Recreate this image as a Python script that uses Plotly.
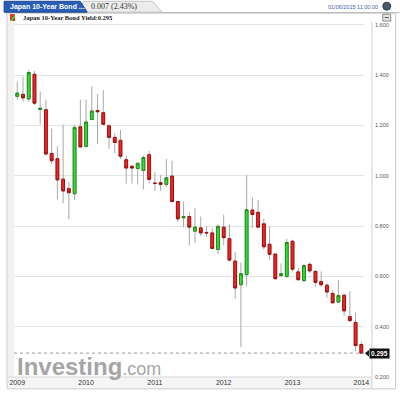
import plotly.graph_objects as go

# ---------------- data ----------------
months = [f"{y}-{m:02d}" for y in range(2010, 2015) for m in range(1, 13)] + ["2015-01"]

opens = [1.316, 1.324, 1.306, 1.404, 1.264, 1.263, 1.089, 1.068, 0.987, 0.949,
         0.929, 1.195, 1.117, 1.224, 1.260, 1.251, 1.199, 1.153, 1.141, 1.064,
         1.038, 1.029, 1.021, 1.084, 0.971, 0.973, 0.966, 0.999, 0.898, 0.833,
         0.838, 0.780, 0.793, 0.775, 0.773, 0.707, 0.796, 0.750, 0.661, 0.567,
         0.607, 0.864, 0.855, 0.809, 0.728, 0.689, 0.603, 0.600, 0.740, 0.618,
         0.583, 0.648, 0.620, 0.580, 0.565, 0.532, 0.498, 0.525, 0.440, 0.417,
         0.329]
highs = [1.374, 1.395, 1.420, 1.417, 1.336, 1.303, 1.188, 1.118, 1.204, 0.976,
         1.204, 1.303, 1.303, 1.356, 1.325, 1.341, 1.204, 1.169, 1.182, 1.081,
         1.042, 1.050, 1.081, 1.099, 1.015, 1.003, 1.067, 1.060, 0.900, 0.898,
         0.855, 0.871, 0.838, 0.799, 0.793, 0.807, 0.846, 0.807, 0.698, 0.655,
         1.003, 0.914, 0.905, 0.829, 0.800, 0.689, 0.652, 0.750, 0.746, 0.633,
         0.648, 0.655, 0.626, 0.620, 0.574, 0.545, 0.587, 0.532, 0.541, 0.456,
         0.339]
lows = [1.303, 1.295, 1.295, 1.282, 1.204, 1.081, 1.047, 0.906, 0.891, 0.827,
        0.903, 1.113, 1.112, 1.222, 1.127, 1.203, 1.107, 1.090, 1.067, 0.969,
        0.969, 0.966, 0.946, 0.969, 0.940, 0.940, 0.956, 0.896, 0.816, 0.796,
        0.724, 0.733, 0.760, 0.757, 0.709, 0.689, 0.724, 0.659, 0.511, 0.319,
        0.561, 0.793, 0.794, 0.707, 0.665, 0.587, 0.598, 0.593, 0.620, 0.583,
        0.580, 0.613, 0.558, 0.558, 0.515, 0.493, 0.495, 0.443, 0.420, 0.302,
        0.293]
closes = [1.329, 1.310, 1.411, 1.289, 1.269, 1.087, 1.060, 0.984, 0.940, 0.933,
          1.192, 1.115, 1.214, 1.258, 1.255, 1.205, 1.153, 1.133, 1.078, 1.031,
          1.031, 1.050, 1.073, 0.986, 0.970, 0.966, 0.992, 0.898, 0.829, 0.838,
          0.796, 0.796, 0.773, 0.773, 0.711, 0.799, 0.754, 0.665, 0.554, 0.611,
          0.865, 0.846, 0.796, 0.718, 0.688, 0.591, 0.611, 0.735, 0.629, 0.587,
          0.643, 0.622, 0.576, 0.567, 0.538, 0.495, 0.524, 0.463, 0.424, 0.325,
          0.295]

tick_positions = ["2010-01", "2011-01", "2012-01", "2013-01", "2014-01", "2015-01"]
tick_years = ["2009", "2010", "2011", "2012", "2013", "2014"]
y_ticks = [0.2, 0.4, 0.6, 0.8, 1.0, 1.2, 1.4, 1.6]
y_ticktext = [f"{v:.3f}" for v in y_ticks]

title_tab = "Japan 10-Year Bond ..."
change_text = "0.007 (2.43%)"
date_text = "01/06/2015 11:00:00"
legend_text = "Japan 10-Year Bond Yield:0.295"
last_value = closes[-1]

# ---------------- geometry helpers (pixel -> paper) ----------------
W, H = 400, 396
ML, MR, MT, MB = 10, 36, 22, 14
PW, PH = W - ML - MR, H - MT - MB


def px(x):
    return (x - ML) / PW


def py(y):
    return (H - MB - y) / PH


GREEN_FILL, GREEN_LINE = "#2fe22f", "#1f8a1f"
RED_FILL, RED_LINE = "#f42424", "#9e1010"

fig = go.Figure()

# wicks (gray)
fig.add_trace(go.Candlestick(
    x=months, open=opens, high=highs, low=lows, close=closes,
    increasing=dict(line=dict(color="#a8a8a8", width=1), fillcolor=GREEN_FILL),
    decreasing=dict(line=dict(color="#a8a8a8", width=1), fillcolor=RED_FILL),
    whiskerwidth=0, hoverinfo="skip", showlegend=False))

# bodies with dark outlines
body_hi = [max(o, c) for o, c in zip(opens, closes)]
body_lo = [min(o, c) for o, c in zip(opens, closes)]
fig.add_trace(go.Candlestick(
    x=months, open=opens, high=body_hi, low=body_lo, close=closes,
    increasing=dict(line=dict(color=GREEN_LINE, width=1), fillcolor=GREEN_FILL),
    decreasing=dict(line=dict(color=RED_LINE, width=1), fillcolor=RED_FILL),
    whiskerwidth=0, showlegend=False))

shapes = []
# outer frame
shapes.append(dict(type="rect", xref="paper", yref="paper",
                   x0=px(3), x1=px(396), y0=py(394), y1=py(13),
                   line=dict(color="#c9c9c9", width=1), fillcolor="rgba(0,0,0,0)", layer="below"))
# left strip
shapes.append(dict(type="rect", xref="paper", yref="paper",
                   x0=px(4), x1=px(10), y0=py(393), y1=py(22),
                   line=dict(width=0), fillcolor="#f1f1f1", layer="below"))
# x-axis band
shapes.append(dict(type="rect", xref="paper", yref="paper",
                   x0=px(4), x1=px(372), y0=py(393), y1=py(382),
                   line=dict(width=0), fillcolor="#f5f5f5", layer="below"))
shapes.append(dict(type="line", xref="paper", yref="paper",
                   x0=px(4), x1=px(372), y0=py(382), y1=py(382),
                   line=dict(color="#d6d6d6", width=1)))
# right axis line
shapes.append(dict(type="line", xref="paper", yref="paper",
                   x0=px(372), x1=px(372), y0=py(393), y1=py(22),
                   line=dict(color="#d0d0d0", width=1)))
# current value dashed line
shapes.append(dict(type="line", xref="paper", yref="y",
                   x0=0, x1=1, y0=last_value, y1=last_value,
                   line=dict(color="#9a9a9a", width=1, dash="dot")))
# value label pointer
shapes.append(dict(type="path", xref="paper", yref="paper",
                   path=f"M {px(365)},{py(358)} L {px(369)},{py(354.5)} L {px(369)},{py(361.5)} Z",
                   fillcolor="#111111", line=dict(width=0)))
# header: underline
shapes.append(dict(type="line", xref="paper", yref="paper",
                   x0=px(0), x1=px(400), y0=py(12.5), y1=py(12.5),
                   line=dict(color="#b8b8b8", width=1)))
# header: gray tab
shapes.append(dict(type="path", xref="paper", yref="paper",
                   path=f"M {px(78)},{py(12)} L {px(80)},{py(1)} L {px(150)},{py(1)} "
                        f"L {px(160)},{py(12)} Z",
                   fillcolor="#ececec", line=dict(color="#c4c4c4", width=1)))
# header: blue tab
shapes.append(dict(type="path", xref="paper", yref="paper",
                   path=f"M {px(0)},{py(12)} L {px(0)},{py(1)} L {px(77)},{py(1)} "
                        f"L {px(84)},{py(12)} Z",
                   fillcolor="#2a5eb4", line=dict(color="#1c4590", width=1)))
# globe icon
shapes.append(dict(type="circle", xref="paper", yref="paper",
                   x0=px(383), x1=px(391), y0=py(10), y1=py(2),
                   fillcolor="#4a5870", line=dict(color="#2e3a50", width=1)))
# minimize button
shapes.append(dict(type="rect", xref="paper", yref="paper",
                   x0=px(383), x1=px(391), y0=py(21), y1=py(14),
                   fillcolor="#e2e2e2", line=dict(color="#8a8a8a", width=1)))
shapes.append(dict(type="line", xref="paper", yref="paper",
                   x0=px(385), x1=px(389), y0=py(17.5), y1=py(17.5),
                   line=dict(color="#555555", width=1)))
# legend icon
shapes.append(dict(type="rect", xref="paper", yref="paper",
                   x0=px(6), x1=px(11), y0=py(21), y1=py(14),
                   fillcolor=RED_FILL, line=dict(width=0)))
shapes.append(dict(type="path", xref="paper", yref="paper",
                   path=f"M {px(6)},{py(21)} L {px(11)},{py(14)} L {px(11)},{py(17)} L {px(8)},{py(21)} Z",
                   fillcolor=GREEN_FILL, line=dict(width=0)))

annotations = [
    dict(text=title_tab, xref="paper", yref="paper", x=px(4), y=py(6.5),
         xanchor="left", yanchor="middle", showarrow=False,
         font=dict(family="Liberation Sans", size=7, color="white", weight="bold")),
    dict(text=change_text, xref="paper", yref="paper", x=px(86), y=py(6.5),
         xanchor="left", yanchor="middle", showarrow=False,
         font=dict(family="Liberation Serif", size=8, color="#333333")),
    dict(text=date_text, xref="paper", yref="paper", x=px(380), y=py(6.5),
         xanchor="right", yanchor="middle", showarrow=False,
         font=dict(family="Liberation Sans", size=5.5, color="#3f62a8")),
    dict(text=legend_text, xref="paper", yref="paper", x=px(17), y=py(17.2),
         xanchor="left", yanchor="middle", showarrow=False,
         font=dict(family="Liberation Serif", size=6.5, color="#222222", weight="bold")),
    dict(text=f"{last_value:.3f}", xref="paper", yref="y", x=px(369), y=last_value,
         xanchor="left", yanchor="middle", showarrow=False, bgcolor="#111111",
         borderpad=1, font=dict(family="Liberation Sans", size=6.5, color="white", weight="bold")),
    dict(text="<b>Investing</b><span style='font-size:18px;font-weight:normal'>.com</span>",
         xref="paper", yref="paper", x=px(11), y=py(387),
         xanchor="left", yanchor="bottom", showarrow=False,
         font=dict(family="Liberation Sans", size=24, color="#a5a5a5")),
]

fig.update_layout(
    width=W, height=H,
    margin=dict(l=ML, r=MR, t=MT, b=MB),
    paper_bgcolor="white", plot_bgcolor="white",
    showlegend=False, boxgap=0.3,
    shapes=shapes, annotations=annotations,
    xaxis=dict(type="category", categoryorder="array", categoryarray=months,
               range=[-0.569, 60.466], tickmode="array",
               tickvals=tick_positions, ticktext=tick_years,
               showgrid=False, zeroline=False, showline=False, ticks="",
               rangeslider=dict(visible=False),
               tickfont=dict(family="Liberation Sans", size=7, color="#333333")),
    yaxis=dict(side="right", range=[0.2, 1.6118], tickmode="array",
               tickvals=y_ticks, ticktext=y_ticktext,
               showgrid=True, gridcolor="#e4e4e4", gridwidth=1,
               zeroline=False, showline=False, ticks="",
               ticklabelstandoff=10,
               tickfont=dict(family="Liberation Sans", size=5.5, color="#555555")),
)

fig.write_html("out.html")
